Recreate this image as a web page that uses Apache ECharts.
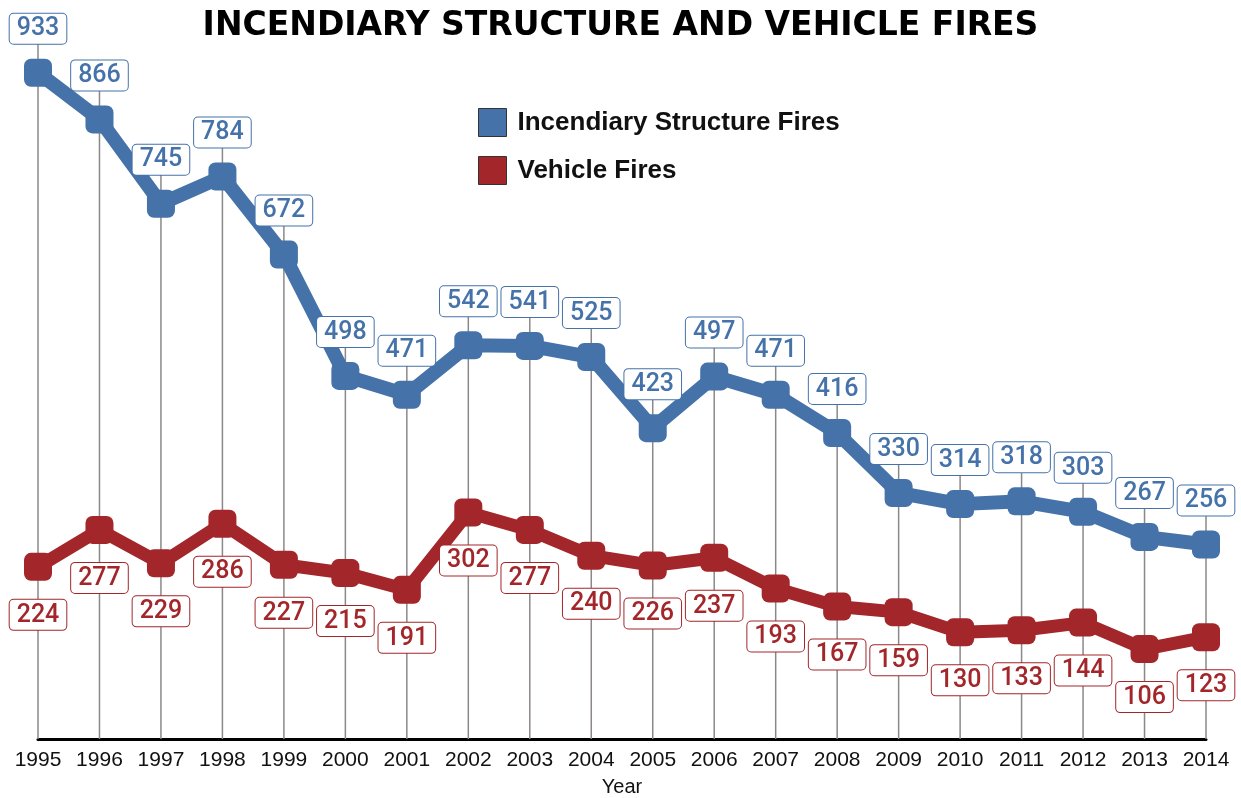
<!DOCTYPE html>
<html>
<head>
<meta charset="utf-8">
<script src="https://cdn.jsdelivr.net/npm/echarts@6/dist/echarts.min.js"></script>
<style>
  html, body { margin: 0; padding: 0; background: #fff; }
  #chart { width: 1241px; height: 798px; }
</style>
</head>
<body>
<div id="chart"></div>
<script>
const years = ['1995', '1996', '1997', '1998', '1999', '2000', '2001', '2002', '2003', '2004',
  '2005', '2006', '2007', '2008', '2009', '2010', '2011', '2012', '2013', '2014']
const structureFires = [933, 866, 745, 784, 672, 498, 471, 542, 541, 525,
  423, 497, 471, 416, 330, 314, 318, 303, 267, 256]
const vehicleFires = [224, 277, 229, 286, 227, 215, 191, 302, 277, 240,
  226, 237, 193, 167, 159, 130, 133, 144, 106, 123]

const BLUE = '#4572a9'
const RED = '#a2262a'
const Y_MIN = -23
const Y_MAX = 1000

const chart = echarts.init(document.getElementById('chart'))

function labelStyle(color, position, distance) {
  return {
    show: true,
    position: position,
    distance: distance,
    color: color,
    fontSize: 25,
    fontWeight: 500,
    fontFamily: 'Roboto, Liberation Sans, Arial, sans-serif',
    backgroundColor: '#fff',
    borderColor: color,
    borderWidth: 1,
    borderRadius: 4,
    padding: [3, 7, 2, 7],
    lineHeight: 25
  }
}

chart.setOption({
  animation: false,
  title: {
    text: 'INCENDIARY STRUCTURE AND VEHICLE FIRES',
    left: 'center',
    top: 5,
    textStyle: {
      fontFamily: 'DejaVu Sans, Liberation Sans, sans-serif',
      fontWeight: 'bold',
      fontSize: 33,
      color: '#000'
    }
  },
  legend: {
    orient: 'vertical',
    left: 473,
    top: 103,
    itemWidth: 28,
    itemHeight: 28,
    itemGap: 19,
    icon: 'rect',
    data: ['Incendiary Structure Fires', 'Vehicle Fires'],
    itemStyle: { borderColor: '#333', borderWidth: 1 },
    textStyle: {
      fontFamily: 'Liberation Sans, Arial, sans-serif',
      fontWeight: 'bold',
      fontSize: 26,
      color: '#111',
      padding: [0, 0, 0, 6]
    }
  },
  grid: {
    left: 38,
    right: 35,
    top: 26,
    bottom: 59,
    containLabel: false,
    outerBoundsMode: 'none'
  },
  xAxis: {
    type: 'category',
    data: years,
    boundaryGap: false,
    axisLine: { onZero: false, lineStyle: { color: '#000', width: 3 } },
    axisTick: { show: false },
    axisLabel: {
      color: '#111',
      fontSize: 21,
      margin: 11,
      fontFamily: 'Liberation Sans, Arial, sans-serif'
    },
    name: 'Year',
    nameLocation: 'middle',
    nameGap: 38,
    nameTextStyle: {
      color: '#111',
      fontSize: 20,
      fontFamily: 'Liberation Sans, Arial, sans-serif'
    }
  },
  yAxis: {
    type: 'value',
    min: Y_MIN,
    max: Y_MAX,
    show: false,
    splitLine: { show: false }
  },
  series: [{
    // drop lines from the axis up to the blue labels
    type: 'custom',
    z: 1,
    silent: true,
    data: structureFires.map((v, i) => [i, v]),
    renderItem: function (params, api) {
      const top = api.coord([api.value(0), api.value(1)])
      const bottom = api.coord([api.value(0), Y_MIN])
      return {
        type: 'line',
        shape: { x1: top[0], y1: top[1] - 40, x2: bottom[0], y2: bottom[1] },
        style: { stroke: '#8c8888', lineWidth: 1.5 }
      }
    }
  }, {
    name: 'Incendiary Structure Fires',
    type: 'line',
    z: 3,
    data: structureFires,
    symbol: 'roundRect',
    symbolSize: 28,
    lineStyle: { color: BLUE, width: 14 },
    itemStyle: { color: BLUE, borderWidth: 0 },
    label: labelStyle(BLUE, 'top', 15)
  }, {
    name: 'Vehicle Fires',
    type: 'line',
    z: 2,
    data: vehicleFires,
    symbol: 'roundRect',
    symbolSize: 28,
    lineStyle: { color: RED, width: 13 },
    itemStyle: { color: RED, borderWidth: 0 },
    label: labelStyle(RED, 'bottom', 19)
  }]
})
</script>
</body>
</html>
